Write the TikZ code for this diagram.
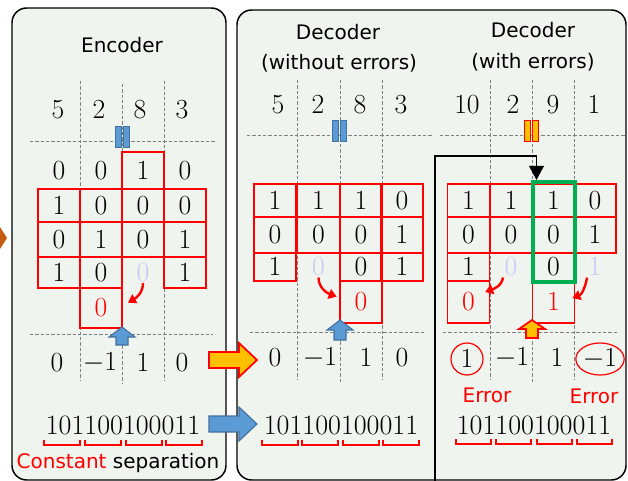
\documentclass[tikz,border=0pt]{standalone}
\usepackage{fontspec}
\newfontfamily\gothic{DejaVu Sans}
\usetikzlibrary{shapes.geometric, arrows.meta}
\definecolor{panel}{RGB}{240,244,238}
\definecolor{faded}{RGB}{200,202,245}
\definecolor{barblue}{RGB}{91,155,213}
\definecolor{barline}{RGB}{65,113,156}
\definecolor{gold}{RGB}{255,192,0}
\definecolor{okgreen}{RGB}{0,176,80}
\definecolor{rust}{RGB}{197,90,17}

\begin{document}
\begin{tikzpicture}[x=0.75pt, y=-0.75pt,
  digit/.style = {inner sep=1pt, font=\fontsize{20}{24}\selectfont},
  bits/.style = {inner sep=1pt, font=\fontsize{21}{25}\selectfont},
  cell/.style = {digit, draw=red, line width=0.9pt, minimum width=31.5pt, minimum height=#1*0.75pt},
  heading/.style = {font=\gothic\fontsize{15}{18}\selectfont},
  guide/.style = {gray, line width=0.6pt, dash pattern=on 2.5pt off 1.5pt},
  panelbox/.style = {draw=black, fill=panel, line width=1.1pt, rounded corners=11pt},
  sepbar/.style = {draw=barline, fill=barblue, line width=0.5pt, minimum width=4.5pt, minimum height=15.75pt, inner sep=0pt},
  errbar/.style = {sepbar, draw=red, fill=gold},
  bluearrow/.style = {draw=barline, fill=barblue, line width=0.8pt},
  goldarrow/.style = {draw=red, fill=gold, line width=1.3pt},
  move/.style = {red, line width=1.8pt, -{Triangle[width=7.5pt,length=6pt]}},
  brk/.style = {red, line width=0.9pt},
  feedback/.style = {black, line width=1.1pt, -{Triangle[width=11pt,length=10.5pt]}}]
\useasboundingbox (0,0) rectangle (628,481);
\fill[rust] (0,227) -- (7,238) -- (0,249) -- cycle;
\draw[panelbox] (12,8) rectangle (226,480);
\draw[panelbox] (237,10) rectangle (626,480);
% guide lines
\draw[guide] (80,81) -- (80,381);
\draw[guide] (122,84) -- (122,383);
\draw[guide] (164,81) -- (164,381);
\draw[guide] (30,141) -- (215,141);
\draw[guide] (30,334) -- (213,334);
\draw[guide] (297,80) -- (297,380);
\draw[guide] (340,80) -- (340,382);
\draw[guide] (382,80) -- (382,380);
\draw[guide] (247,135) -- (432,135);
\draw[guide] (250,332) -- (425,332);
\draw[guide] (490,80) -- (490,380);
\draw[guide] (532,80) -- (532,382);
\draw[guide] (574,80) -- (574,380);
\draw[guide] (440,135) -- (625,135);
\draw[guide] (443,332) -- (617,332);

% encoder
\node[heading] (enc_title) at (122,45) {Encoder};
\node[digit] (enc_t0) at (58,110) {$5$};
\node[digit] (enc_t1) at (99,110) {$2$};
\node[digit] (enc_t2) at (140,110) {$8$};
\node[digit] (enc_t3) at (182,110) {$3$};
\node[sepbar] (enc_bar_l) at (118.5,136.5) {};
\node[sepbar] (enc_bar_r) at (126.5,136.5) {};
\node[digit] (enc_00) at (59,170.5) {$0$};
\node[digit] (enc_01) at (101,170.5) {$0$};
\node[cell=37] (enc_02) at (143,170.5) {$1$};
\node[digit] (enc_03) at (185,170.5) {$0$};
\node[cell=33] (enc_10) at (59,205.5) {$1$};
\node[cell=33] (enc_11) at (101,205.5) {$0$};
\node[cell=33] (enc_12) at (143,205.5) {$0$};
\node[cell=33] (enc_13) at (185,205.5) {$0$};
\node[cell=35] (enc_20) at (59,239.5) {$0$};
\node[cell=35] (enc_21) at (101,239.5) {$1$};
\node[cell=35] (enc_22) at (143,239.5) {$0$};
\node[cell=35] (enc_23) at (185,239.5) {$1$};
\node[cell=31] (enc_30) at (59,272.5) {$1$};
\node[cell=31] (enc_31) at (101,272.5) {$0$};
\node[digit, text=faded] (enc_32) at (143,272.5) {$0$};
\node[cell=31] (enc_33) at (185,272.5) {$1$};
\node[cell=40, text=red] (enc_41) at (101,308) {$0$};
\draw[move] (enc_32.south) to[out=-90, in=30] ([xshift=4pt, yshift=4pt]enc_41.east);
\filldraw[bluearrow] (122,327) -- (135,337) -- (128,337) -- (128,345) -- (116,345) -- (116,337) -- (109,337) -- cycle;
\node[digit] (enc_b0) at (57,363) {$0$};
\node[digit] (enc_b1) at (100,363) {$-1$};
\node[digit] (enc_b2) at (143,363) {$1$};
\node[digit] (enc_b3) at (182,363) {$0$};
\node[bits] (enc_bits) at (123,425) {101100100011};
\foreach \x in {44,85,126,166} \draw[brk] (\x,440) -- ++(0,5) -- ++(36,0) -- ++(0,-5);
\node[heading] (enc_note) at (118,463) {\textcolor{red}{Constant} separation};

% decoder, no errors
\node[heading] (dec_title) at (338,32) {Decoder};
\node[heading] (dec_sub) at (339,63) {(without errors)};
\node[digit] (dec_t0) at (278,105) {$5$};
\node[digit] (dec_t1) at (318,105) {$2$};
\node[digit] (dec_t2) at (360,105) {$8$};
\node[digit] (dec_t3) at (401,105) {$3$};
\node[sepbar] (dec_bar_l) at (335,131) {};
\node[sepbar] (dec_bar_r) at (343,131) {};
\node[cell=33] (dec_00) at (275,200.5) {$1$};
\node[cell=33] (dec_01) at (318.5,200.5) {$1$};
\node[cell=33] (dec_02) at (361,200.5) {$1$};
\node[cell=33] (dec_03) at (402,200.5) {$0$};
\node[cell=36] (dec_10) at (275,235) {$0$};
\node[cell=36] (dec_11) at (318.5,235) {$0$};
\node[cell=36] (dec_12) at (361,235) {$0$};
\node[cell=36] (dec_13) at (402,235) {$1$};
\node[cell=28] (dec_20) at (275,267) {$1$};
\node[digit, text=faded] (dec_21) at (318.5,267) {$0$};
\node[cell=28] (dec_22) at (361,267) {$0$};
\node[cell=28] (dec_23) at (402,267) {$1$};
\node[cell=42, text=red] (dec_32) at (361,302) {$0$};
\draw[move] (dec_21.south) to[out=-90, in=160] ([xshift=-2pt, yshift=4pt]dec_32.west);
\filldraw[bluearrow] (340,320) -- (353,330) -- (346,330) -- (346,340) -- (334,340) -- (334,330) -- (327,330) -- cycle;
\node[digit] (dec_b0) at (275,358) {$0$};
\node[digit] (dec_b1) at (320,358) {$-1$};
\node[digit] (dec_b2) at (366,358) {$1$};
\node[digit] (dec_b3) at (402,358) {$0$};
\node[bits] (dec_bits) at (341,425) {101100100011};
\foreach \x in {262,302,343,383} \draw[brk] (\x,440) -- ++(0,5) -- ++(36,0) -- ++(0,-5);

% decoder, with errors
\node[heading] (err_title) at (533,30) {Decoder};
\node[heading] (err_sub) at (533,62) {(with errors)};
\node[digit] (err_t0) at (467,105) {$10$};
\node[digit] (err_t1) at (513,105) {$2$};
\node[digit] (err_t2) at (553,105) {$9$};
\node[digit] (err_t3) at (594,105) {$1$};
\node[errbar] (err_bar_l) at (527,131) {};
\node[errbar] (err_bar_r) at (535.5,131) {};
\node[cell=33] (err_00) at (468.5,200.5) {$1$};
\node[cell=33] (err_01) at (511,200.5) {$1$};
\node[cell=33] (err_02) at (553.5,200.5) {$1$};
\node[cell=33] (err_03) at (595,200.5) {$0$};
\node[cell=36] (err_10) at (468.5,235) {$0$};
\node[cell=36] (err_11) at (511,235) {$0$};
\node[cell=36] (err_12) at (553.5,235) {$0$};
\node[cell=36] (err_13) at (595,235) {$1$};
\node[cell=28] (err_20) at (468.5,267) {$1$};
\node[digit, text=faded] (err_21) at (511,267) {$0$};
\node[cell=28] (err_22) at (553.5,267) {$0$};
\node[digit, text=faded] (err_23) at (595,267) {$1$};
\node[cell=42, text=red] (err_30) at (468.5,302) {$0$};
\node[cell=42, text=red] (err_32) at (553.5,302) {$1$};
\node[draw=okgreen, line width=3pt, minimum width=31.5pt, minimum height=75pt] (err_check) at (553.5,232) {};
\draw[move] (err_21.south west) to[out=-100, in=20] ([xshift=-3.75pt, yshift=7.5pt]err_30.east);
\draw[move] (err_23.south west) to[out=-100, in=20] ([xshift=-2pt, yshift=3pt]err_32.east);
\filldraw[goldarrow] (532,320) -- (545,329) -- (538,329) -- (538,338) -- (526,338) -- (526,329) -- (519,329) -- cycle;
\node[digit, circle, draw=red, line width=0.9pt, minimum size=24pt, inner sep=0pt] (err_b0) at (467,359) {$1$};
\node[digit] (err_b1) at (512,358) {$-1$};
\node[digit] (err_b2) at (557,358) {$1$};
\node[digit, ellipse, draw=red, line width=0.9pt, minimum width=34pt, minimum height=24pt, inner sep=0pt] (err_b3) at (600,359) {$-1$};
\node[heading, text=red] (err_note_l) at (487,395) {Error};
\node[heading, text=red] (err_note_r) at (594,396) {Error};
\node[bits] (err_bits) at (534,425) {101100100011};
\foreach \x in {456,496,537,577} \draw[brk] (\x,439) -- ++(0,5) -- ++(35,0) -- ++(0,-5);
\coordinate (err_feed) at (435,481);
\draw[feedback] (err_feed) |- ([xshift=4.5pt, yshift=18pt]err_check.north west) -- ([xshift=4.5pt]err_check.north west);

% between panels
\filldraw[goldarrow] (209,352) -- (239,352) -- (239,343) -- (257,360) -- (239,377) -- (239,368) -- (209,368) -- cycle;
\filldraw[bluearrow] (209,416) -- (239,416) -- (239,407) -- (257,424) -- (239,441) -- (239,432) -- (209,432) -- cycle;
\end{tikzpicture}
\end{document}
